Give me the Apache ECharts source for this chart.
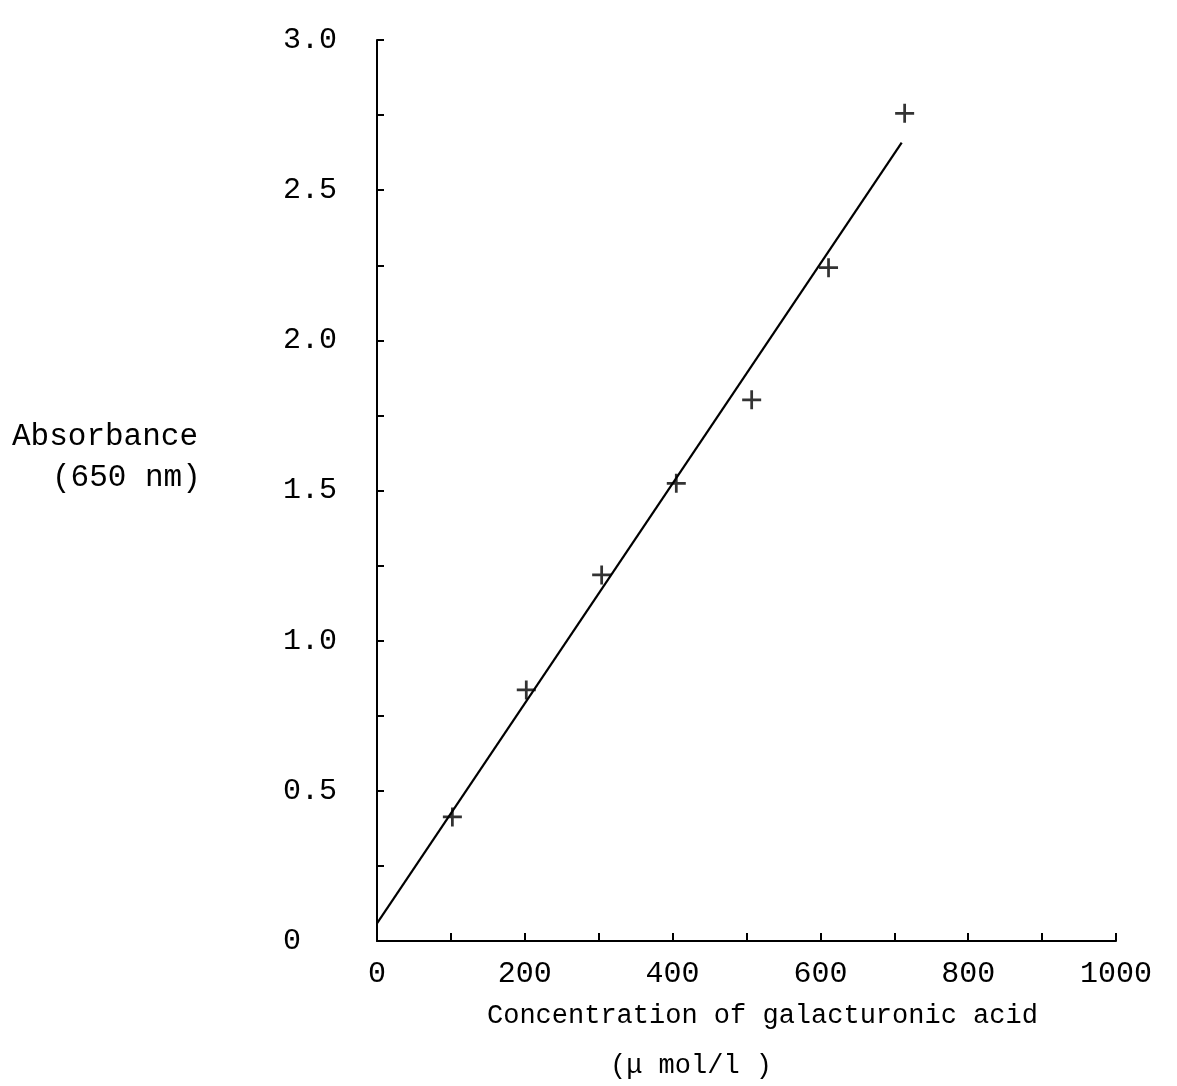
<!DOCTYPE html>
<html>
<head>
<meta charset="utf-8">
<script src="https://cdn.jsdelivr.net/npm/echarts@6/dist/echarts.min.js"></script>
<style>
  html, body { margin: 0; padding: 0; background: #fff; }
  #chart { width: 1177px; height: 1086px; }
</style>
</head>
<body>
<div id="chart"></div>
<script>
// Galacturonic acid standard curve: concentration (µmol/l) vs absorbance at 650 nm
const concentration = [102, 202, 304, 405, 507, 611, 714];
const absorbance = [0.413, 0.836, 1.219, 1.524, 1.802, 2.242, 2.756];
// Straight-line fit drawn through the standards (end points)
const fitX = [0, 710];
const fitY = [0.059, 2.658];
const xTickLabels = [0, 200, 400, 600, 800, 1000];
const yTickLabels = [0, 0.5, 1.0, 1.5, 2.0, 2.5, 3.0];

const FONT = '"Liberation Mono", "Courier New", "DejaVu Sans Mono", monospace';
const INK = '#000';

const points = concentration.map((c, i) => [c, absorbance[i]]);
const fitLine = fitX.map((x, i) => [x, fitY[i]]);

// filled plus sign used as the point marker
const plus = 'path://M-1.3,-9 h2.6 v7.7 h7.7 v2.6 h-7.7 v7.7 h-2.6 v-7.7 h-7.7 v-2.6 h7.7 z';

const chart = echarts.init(document.getElementById('chart'));
chart.setOption({
  backgroundColor: '#fff',
  animation: false,
  grid: { left: 377, right: 61, top: 40, bottom: 145, containLabel: false },
  xAxis: {
    type: 'value', min: 0, max: 1000, interval: 100,
    splitLine: { show: false },
    axisLine: { lineStyle: { color: INK, width: 2 } },
    axisTick: { inside: true, length: 8, lineStyle: { color: INK, width: 2 } },
    axisLabel: {
      margin: 18, color: INK, fontFamily: FONT, fontSize: 30,
      formatter: v => xTickLabels.includes(v) ? String(v) : ''
    }
  },
  yAxis: {
    type: 'value', min: 0, max: 3, interval: 0.25,
    splitLine: { show: false },
    axisLine: { lineStyle: { color: INK, width: 2 } },
    axisTick: { inside: true, length: 7, lineStyle: { color: INK, width: 2 } },
    axisLabel: {
      margin: 94, align: 'left', color: INK, fontFamily: FONT, fontSize: 30,
      formatter: v => {
        const hit = yTickLabels.find(t => Math.abs(t - v) < 1e-9);
        if (hit === undefined) return '';
        return hit === 0 ? '0' : hit.toFixed(1);
      }
    }
  },
  series: [
    {
      type: 'line', data: fitLine, symbol: 'none',
      lineStyle: { color: INK, width: 2.2 }, z: 2
    },
    {
      type: 'scatter', data: points, symbol: plus, symbolSize: 19,
      itemStyle: { color: INK }, z: 3
    }
  ],
  graphic: [
    { type: 'text', x: 12, y: 437, style: { text: 'Absorbance', font: '31px ' + FONT, fill: INK, verticalAlign: 'middle' } },
    { type: 'text', x: 52, y: 478, style: { text: '(650 nm)', font: '31px ' + FONT, fill: INK, verticalAlign: 'middle' } },
    { type: 'text', x: 487, y: 1016, style: { text: 'Concentration of galacturonic acid', font: '27px ' + FONT, fill: INK, verticalAlign: 'middle' } },
    { type: 'text', x: 610, y: 1066, style: { text: '(\u03bc mol/l )', font: '27px ' + FONT, fill: INK, verticalAlign: 'middle' } }
  ]
});
</script>
</body>
</html>
